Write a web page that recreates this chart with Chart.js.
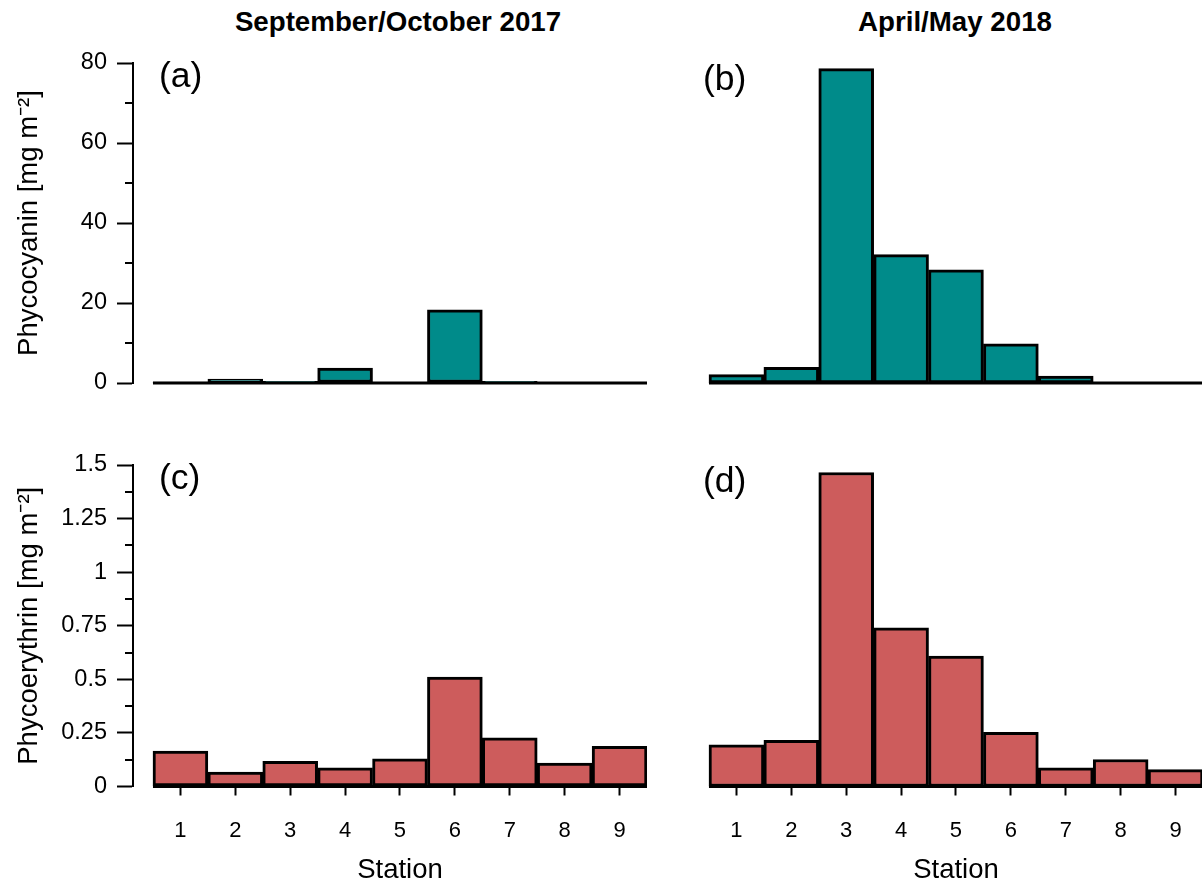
<!DOCTYPE html>
<html>
<head>
<meta charset="utf-8">
<script src="https://cdn.jsdelivr.net/npm/chart.js@4.4.0/dist/chart.umd.min.js"></script>
<style>
  html, body { margin: 0; padding: 0; background: #fff; overflow: hidden; width: 1202px; height: 885px; }
  .panel { position: absolute; }
  .colTitle { position: absolute; width: 400px; text-align: center; color: #000;
    font: bold 27.7px "Liberation Sans", Arial, sans-serif; line-height: 27.7px; }
  .tag { position: absolute; color: #000; font: 35.5px "Liberation Sans", Arial, sans-serif; line-height: 35px; }
</style>
</head>
<body>
<div class="colTitle" style="left:198px; top:8px;">September/October 2017</div>
<div class="colTitle" style="left:755px; top:8px;">April/May 2018</div>

<div class="panel" style="left:0; top:43px; width:647px; height:360px;"><canvas id="chartA"></canvas></div>
<div class="panel" style="left:689px; top:43px; width:514px; height:360px;"><canvas id="chartB"></canvas></div>
<div class="panel" style="left:0; top:445px; width:647px; height:440px;"><canvas id="chartC"></canvas></div>
<div class="panel" style="left:689px; top:445px; width:514px; height:440px;"><canvas id="chartD"></canvas></div>

<div class="tag" style="left:159px; top:58px;">(a)</div>
<div class="tag" style="left:703px; top:61px;">(b)</div>
<div class="tag" style="left:159px; top:460px;">(c)</div>
<div class="tag" style="left:703px; top:463px;">(d)</div>

<script>
// stations along the transect
const stations = [1, 2, 3, 4, 5, 6, 7, 8, 9];

// phycocyanin [mg m-2]
const pcSepOct = [0.2, 1.0, 0.4, 3.7, 0, 18.3, 0.4, 0, 0];
const pcAprMay = [2.1, 3.9, 78.6, 32.1, 28.3, 9.8, 1.7, 0, 0];

// phycoerythrin [mg m-2]
const peSepOct = [0.165, 0.067, 0.118, 0.087, 0.129, 0.51, 0.227, 0.109, 0.187];
const peAprMay = [0.195, 0.215, 1.465, 0.74, 0.608, 0.253, 0.087, 0.126, 0.079];

const pcTitle = 'Phycocyanin [mg m\u207B\u00B2]';
const peTitle = 'Phycoerythrin [mg m\u207B\u00B2]';
const xTitle = 'Station';

const tealFill = '#008B8A';
const redFill = '#CD5C5C';

Chart.defaults.font.family = '"Liberation Sans", Arial, sans-serif';
Chart.defaults.color = '#000';

// baseline under the bars, minor y ticks, x title centred on the bars
const axisExtras = {
  id: 'axisExtras',
  afterDatasetsDraw(chart){
    const {ctx} = chart;
    const x = chart.scales.x, y = chart.scales.y;
    const y0 = y.getPixelForValue(0);
    ctx.save();
    ctx.strokeStyle = '#000';
    ctx.lineWidth = 3;
    ctx.beginPath();
    ctx.moveTo(x.getPixelForValue(0.5), y0);
    ctx.lineTo(x.getPixelForValue(9.5), y0);
    ctx.stroke();
    ctx.restore();
  },
  afterDraw(chart, args, opts){
    const {ctx} = chart;
    const x = chart.scales.x, y = chart.scales.y;
    ctx.save();
    if(opts.minorStep){
      const left = chart.chartArea.left;
      ctx.strokeStyle = '#000';
      ctx.lineWidth = 2;
      ctx.beginPath();
      for(let v = opts.minorStep; v < y.max; v += opts.minorStep * 2){
        const py = Math.round(y.getPixelForValue(v));
        ctx.moveTo(left - 8, py);
        ctx.lineTo(left, py);
      }
      ctx.stroke();
    }
    if(opts.xTitle){
      ctx.fillStyle = '#000';
      ctx.font = '27.5px "Liberation Sans", Arial, sans-serif';
      ctx.textAlign = 'center';
      ctx.textBaseline = 'alphabetic';
      ctx.fillText(opts.xTitle, x.getPixelForValue(5), chart.height - 7);
    }
    ctx.restore();
  }
};

function makePanel(id, values, fill, cfg){
  const ctx = document.getElementById(id);
  return new Chart(ctx, {
    type: 'bar',
    data: {
      datasets: [{
        data: stations.map((s, i) => ({x: s, y: values[i]})),
        backgroundColor: fill,
        borderColor: '#000',
        borderWidth: 3,
        borderSkipped: false,
        barPercentage: 1,
        categoryPercentage: 1
      }]
    },
    options: {
      responsive: true,
      maintainAspectRatio: false,
      animation: false,
      layout: { padding: { top: 20, bottom: cfg.showX ? 0 : 20, left: 0, right: 0 } },
      plugins: {
        legend: { display: false },
        tooltip: { enabled: false },
        axisExtras: { minorStep: cfg.showY ? cfg.yStep / 2 : 0, xTitle: cfg.showX ? xTitle : '' }
      },
      scales: {
        x: {
          type: 'linear',
          display: cfg.showX,
          offset: false,
          min: 0.136,
          max: 9.5,
          afterFit: s => {
            if(cfg.showX) s.height = 98.5;
            s.paddingLeft = 0; s.paddingRight = 0;
          },
          afterBuildTicks: s => { s.ticks = stations.map(v => ({value: v})); },
          ticks: { font: { size: 22 }, padding: 22, color: '#000' },
          grid: { offset: false, drawOnChartArea: false, drawTicks: true, tickLength: 9, tickWidth: 2, tickColor: '#000' },
          border: { display: false },
          title: { display: false }
        },
        y: {
          type: 'linear',
          display: cfg.showY,
          min: 0,
          max: cfg.yMax,
          afterFit: s => {
            if(cfg.showY) s.width = 133;
            s.paddingTop = 0; s.paddingBottom = 0;
          },
          ticks: { stepSize: cfg.yStep, font: { size: 23.5 }, padding: 10, color: '#000',
                   callback: v => String(+v.toFixed(2)) },
          grid: { drawOnChartArea: false, drawTicks: true, tickLength: 16, tickWidth: 2, tickColor: '#000' },
          border: { display: true, color: '#000', width: 2 },
          title: { display: true, text: cfg.yTitle, font: { size: 27.5 }, color: '#000', padding: { top: 13, bottom: 0 } }
        }
      }
    },
    plugins: [axisExtras]
  });
}

makePanel('chartA', pcSepOct, tealFill, { showX: false, showY: true, yMax: 80, yStep: 20, yTitle: pcTitle });
makePanel('chartB', pcAprMay, tealFill, { showX: false, showY: false, yMax: 80, yStep: 20, yTitle: pcTitle });
makePanel('chartC', peSepOct, redFill, { showX: true, showY: true, yMax: 1.5, yStep: 0.25, yTitle: peTitle });
makePanel('chartD', peAprMay, redFill, { showX: true, showY: false, yMax: 1.5, yStep: 0.25, yTitle: peTitle });
</script>
</body>
</html>
